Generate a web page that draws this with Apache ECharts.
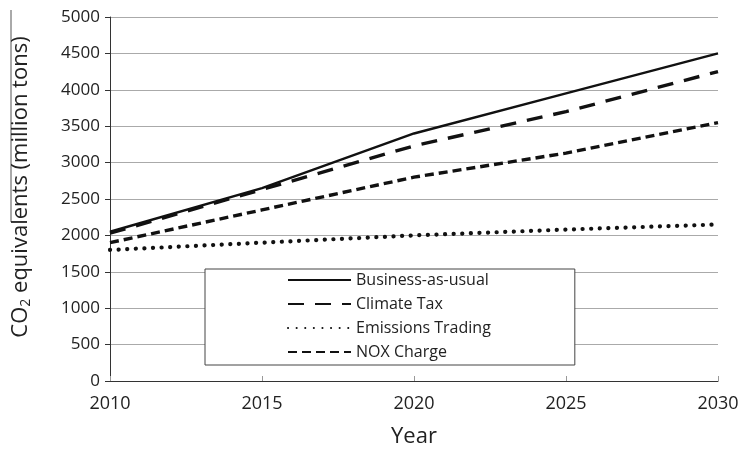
<!DOCTYPE html>
<html>
<head>
<meta charset="utf-8">
<script src="https://cdn.jsdelivr.net/npm/echarts@6/dist/echarts.min.js"></script>
<style>
  html, body { margin: 0; padding: 0; background: #fff; }
  #chart { width: 745px; height: 450px; }
</style>
</head>
<body>
<div id="chart"></div>
<script>
const years = [2010, 2015, 2020, 2025, 2030];
const businessAsUsual = [2050, 2650, 3400, 3950, 4500];
const climateTax = [2030, 2630, 3230, 3700, 4250];
const emissionsTrading = [1800, 1900, 2000, 2080, 2150];
const noxCharge = [1900, 2350, 2800, 3130, 3550];

const chart = echarts.init(document.getElementById('chart'));

function pairs(vals) {
  return years.map(function (y, i) { return [y, vals[i]]; });
}

const font = 'Open Sans, Liberation Sans, sans-serif';

const option = {
  backgroundColor: '#fff',
  animation: false,
  textStyle: { fontFamily: font },
  grid: { left: 110, right: 27, top: 17, bottom: 69, outerBoundsMode: 'none' },
  xAxis: {
    type: 'value',
    min: 2010,
    max: 2030,
    interval: 5,
    name: 'Year',
    nameLocation: 'middle',
    nameGap: 45,
    nameTextStyle: { fontSize: 22, color: '#222', fontFamily: font },
    axisLine: { lineStyle: { color: '#333', width: 1 } },
    axisTick: { show: true, inside: true, length: 5, lineStyle: { color: '#999' } },
    axisLabel: { fontSize: 18, color: '#222', margin: 14, formatter: function (v) { return String(v); } },
    splitLine: { show: false }
  },
  yAxis: {
    type: 'value',
    min: 0,
    max: 5000,
    interval: 500,
    name: '{a|CO}{s|2}{a| equivalents (million tons)}',
    nameLocation: 'middle',
    nameGap: 77,
    nameTextStyle: {
      padding: [0, 0, 0, 24],
      rich: {
        a: { fontSize: 22, color: '#222', fontFamily: font },
        s: { fontSize: 14, color: '#222', fontFamily: font, verticalAlign: 'bottom', padding: [10, 0, 0, 0] }
      }
    },
    axisLine: { show: true, lineStyle: { color: '#333', width: 1 } },
    axisTick: { show: true, length: 5, lineStyle: { color: '#333' } },
    axisLabel: { fontSize: 17, color: '#222', margin: 10, formatter: function (v) { return String(v); } },
    splitLine: { show: true, lineStyle: { color: '#aaa', width: 1 } }
  },
  legend: {
    orient: 'vertical',
    left: 205,
    top: 269,
    itemGap: 8,
    itemWidth: 63,
    itemHeight: 16,
    padding: [3, 84, 5, 82],
    borderColor: '#444',
    borderWidth: 1,
    backgroundColor: '#fff',
    itemStyle: { opacity: 0 },
    textStyle: { fontSize: 16, lineHeight: 16, color: '#222', fontFamily: font },
    data: ['Business-as-usual', 'Climate Tax', 'Emissions Trading', 'NOX Charge']
  },
  graphic: [{
    type: 'line',
    shape: { x1: 11, y1: 10, x2: 11, y2: 222 },
    style: { stroke: '#555', lineWidth: 1 }
  }],
  series: [
    {
      name: 'Business-as-usual',
      type: 'line',
      data: pairs(businessAsUsual),
      symbol: 'none',
      lineStyle: { color: '#111', width: 2.4, type: 'solid' },
      itemStyle: { color: '#111' }
    },
    {
      name: 'Climate Tax',
      type: 'line',
      data: pairs(climateTax),
      symbol: 'none',
      lineStyle: { color: '#111', width: 3.4, type: [16, 11] },
      itemStyle: { color: '#111' }
    },
    {
      name: 'Emissions Trading',
      type: 'line',
      data: pairs(emissionsTrading),
      symbol: 'none',
      lineStyle: { color: '#111', width: 4.2, type: [0.1, 8.5], cap: 'round' },
      itemStyle: { color: '#111' }
    },
    {
      name: 'NOX Charge',
      type: 'line',
      data: pairs(noxCharge),
      symbol: 'none',
      lineStyle: { color: '#111', width: 3.4, type: [9, 5] },
      itemStyle: { color: '#111' }
    }
  ]
};

chart.setOption(option);
</script>
</body>
</html>
